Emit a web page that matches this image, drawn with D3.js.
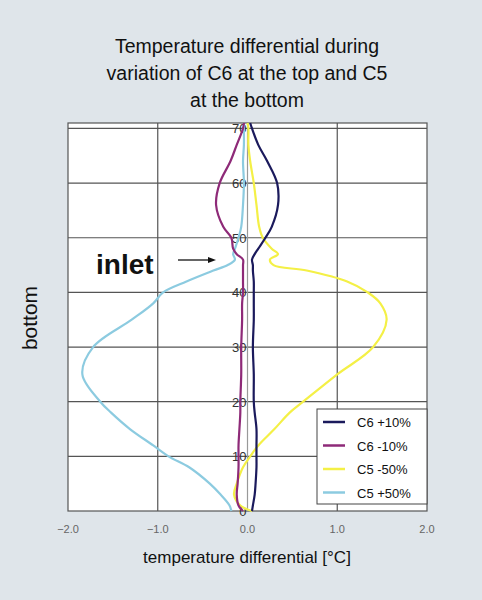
<!DOCTYPE html>
<html>
<head>
<meta charset="utf-8">
<script src="https://cdn.jsdelivr.net/npm/d3@7"></script>
<style>
  body { margin: 0; background: #dfe5ea; }
  svg { font-family: "Liberation Sans", Arial, sans-serif; }
</style>
</head>
<body>
<div id="chart"></div>
<script>
const heights = [0, 1, 3, 5, 8, 10, 12, 15, 18, 20, 25, 30, 35, 38, 40, 42, 44, 45, 46, 47, 48, 50, 52, 56, 60, 64, 67, 70, 71];

const c6Plus10 = [0.05, 0.06, 0.08, 0.09, 0.1, 0.1, 0.1, 0.1, 0.08, 0.07, 0.07, 0.06, 0.07, 0.07, 0.07, 0.07, 0.06, 0.06, 0.05, 0.08, 0.12, 0.2, 0.27, 0.34, 0.33, 0.22, 0.12, 0.05, 0.03];
const c6Minus10 = [-0.05, -0.1, -0.12, -0.11, -0.1, -0.1, -0.1, -0.09, -0.08, -0.08, -0.07, -0.07, -0.06, -0.06, -0.05, -0.05, -0.05, -0.05, -0.05, -0.12, -0.16, -0.18, -0.27, -0.35, -0.31, -0.19, -0.12, -0.05, -0.04];
const c5Minus50 = [0.05, -0.08, -0.15, -0.12, -0.05, 0.03, 0.12, 0.3, 0.47, 0.62, 1.0, 1.4, 1.55, 1.48, 1.34, 1.11, 0.66, 0.29, 0.25, 0.34, 0.27, 0.17, 0.13, 0.1, 0.07, 0.03, 0.01, 0.01, 0.0];
const c5Plus50 = [-0.18, -0.2, -0.3, -0.42, -0.65, -0.88, -1.05, -1.31, -1.52, -1.64, -1.84, -1.72, -1.29, -1.05, -0.94, -0.68, -0.38, -0.22, -0.14, -0.16, -0.14, -0.1, -0.07, -0.05, -0.04, -0.05, -0.04, -0.04, -0.04];

const seriesNames = ["C6 +10%", "C6 -10%", "C5 -50%", "C5 +50%"];
const seriesColors = ["#1b1a5c", "#8e2a78", "#f4f046", "#8ccbe0"];
const xTicks = [-2, -1, 0, 1, 2];
const yTicks = [0, 10, 20, 30, 40, 50, 60, 70];
const titleLines = ["Temperature differential during", "variation of C6 at the top and C5", "at the bottom"];

const width = 482, height = 600;
const plotLeft = 68, plotRight = 427, plotTop = 123, plotBottom = 511;

const svg = d3.select("#chart").append("svg")
  .attr("width", width).attr("height", height);

svg.append("rect").attr("width", width).attr("height", height).attr("fill", "#dfe5ea");

const x = d3.scaleLinear().domain([-2, 2]).range([plotLeft, plotRight]);
const y = d3.scaleLinear().domain([0, 71]).range([plotBottom, plotTop]);

svg.append("rect")
  .attr("x", plotLeft).attr("y", plotTop)
  .attr("width", plotRight - plotLeft).attr("height", plotBottom - plotTop)
  .attr("fill", "#fff").attr("stroke", "#555").attr("stroke-width", 1.2);

// grid
svg.append("g").selectAll("line").data(yTicks.filter(d => d > 0)).join("line")
  .attr("x1", plotLeft).attr("x2", plotRight)
  .attr("y1", d => y(d)).attr("y2", d => y(d))
  .attr("stroke", "#555").attr("stroke-width", 1.2);
svg.append("g").selectAll("line").data(xTicks.filter(d => d !== -2 && d !== 2)).join("line")
  .attr("x1", d => x(d)).attr("x2", d => x(d))
  .attr("y1", plotTop).attr("y2", plotBottom)
  .attr("stroke", d => d === 0 ? "#999" : "#555").attr("stroke-width", 1.2);

// x axis labels
svg.append("g").selectAll("text").data(xTicks).join("text")
  .attr("x", d => x(d)).attr("y", 533)
  .attr("text-anchor", "middle")
  .style("font-size", "11px").attr("fill", "#666")
  .text(d3.format(".1f"));

// y labels sit on the zero line
svg.append("g").selectAll("text").data(yTicks).join("text")
  .attr("x", x(0) - 1).attr("y", d => y(d) + 5)
  .attr("text-anchor", "end")
  .style("font-size", "13px").attr("fill", "#333")
  .text(d => d);

// series
const allSeries = [c6Plus10, c6Minus10, c5Minus50, c5Plus50];
const line = d3.line().x(d => x(d[0])).y(d => y(d[1])).curve(d3.curveCatmullRom);
const drawOrder = [2, 3, 1, 0];
drawOrder.forEach(i => {
  svg.append("path")
    .datum(allSeries[i].map((v, k) => [v, heights[k]]))
    .attr("fill", "none")
    .attr("stroke", seriesColors[i])
    .attr("stroke-width", 2.2)
    .attr("d", line);
});

// legend
const lg = svg.append("g").attr("transform", "translate(317,409)");
lg.append("rect").attr("width", 110).attr("height", 95)
  .attr("fill", "#fff").attr("stroke", "#444").attr("stroke-width", 1);
seriesNames.forEach((name, i) => {
  const yy = 13 + i * 23.5;
  lg.append("line").attr("x1", 6).attr("x2", 28).attr("y1", yy).attr("y2", yy)
    .attr("stroke", seriesColors[i]).attr("stroke-width", 2.5);
  lg.append("text").attr("x", 40).attr("y", yy + 5)
    .style("font-size", "13px").attr("fill", "#111").text(name);
});

// title
svg.append("g").selectAll("text").data(titleLines).join("text")
  .attr("x", 247).attr("y", (d, i) => 53 + i * 27)
  .attr("text-anchor", "middle")
  .style("font-size", "19.5px").attr("fill", "#111")
  .text(d => d);

// inlet annotation
svg.append("text").attr("x", 96).attr("y", 274)
  .style("font-size", "28px").style("font-weight", "bold").attr("fill", "#111")
  .text("inlet");
svg.append("line").attr("x1", 178).attr("x2", 210).attr("y1", 260).attr("y2", 260)
  .attr("stroke", "#111").attr("stroke-width", 1.3);
svg.append("path").attr("d", "M216,260 L208,257 L208,263 Z").attr("fill", "#111");

// axis titles
svg.append("text").attr("x", 247).attr("y", 563)
  .attr("text-anchor", "middle").style("font-size", "17px").attr("fill", "#111")
  .text("temperature differential [°C]");
svg.append("text")
  .attr("transform", "translate(37,318) rotate(-90)")
  .attr("text-anchor", "middle").style("font-size", "21px").attr("fill", "#111")
  .text("bottom");
</script>
</body>
</html>
